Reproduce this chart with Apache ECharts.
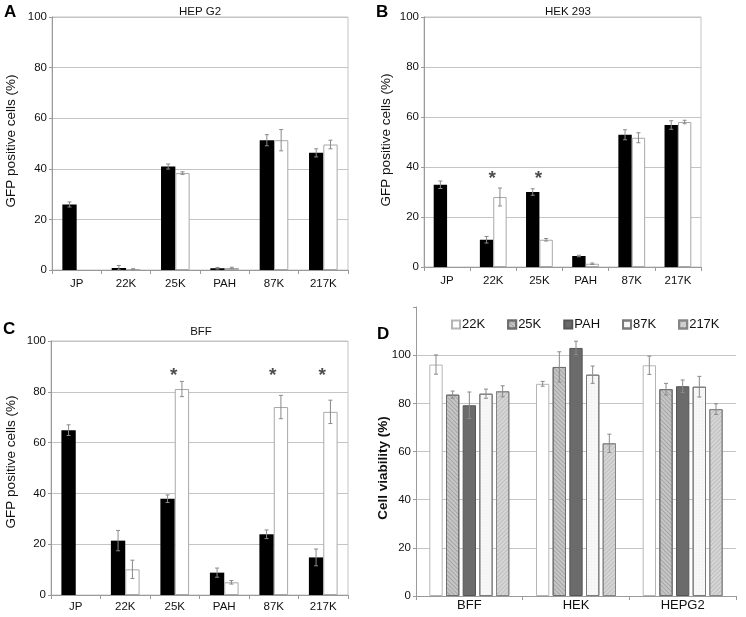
<!DOCTYPE html>
<html>
<head>
<meta charset="utf-8">
<script src="https://cdn.jsdelivr.net/npm/echarts@6/dist/echarts.min.js"></script>
<style>html,body{margin:0;padding:0;background:#fff;}#c{width:746px;height:617px;}</style>
</head>
<body>
<div id="c"></div>
<script>
// ---------- data ----------
const cellCategories = ['JP', '22K', '25K', 'PAH', '87K', '217K'];
const gfpTicks = [0, 20, 40, 60, 80, 100];

const hepg2Black = [25.9, 0.8, 40.9, 0.7, 51.3, 46.3];
const hepg2BlackErr = [1.0, 1.0, 1.0, 0.3, 2.2, 1.6];
const hepg2White = [null, 0.3, 38.3, 0.8, 51.3, 49.6];
const hepg2WhiteErr = [null, 0.2, 0.5, 0.3, 4.2, 1.7];

const hek293Black = [32.9, 10.9, 30.0, 4.4, 52.9, 56.8];
const hek293BlackErr = [1.5, 1.3, 1.3, 0.3, 2.0, 1.7];
const hek293White = [null, 28.0, 10.9, 1.3, 51.7, 58.0];
const hek293WhiteErr = [null, 3.6, 0.5, 0.3, 2.0, 0.7];
const hek293StarCats = ['22K', '25K'];
const hek293StarY = [36.9, 36.9];

const bffBlack = [64.9, 21.4, 37.9, 8.8, 23.9, 14.8];
const bffBlackErr = [2.1, 4.0, 1.5, 1.8, 1.7, 3.3];
const bffWhite = [null, 10.1, 81.1, 5.0, 74.0, 72.1];
const bffWhiteErr = [null, 3.6, 3.0, 0.7, 4.6, 4.6];
const bffStarCats = ['25K', '87K', '217K'];
const bffStarY = [87.8, 87.8, 87.8];

const viabilityGroups = ['BFF', 'HEK', 'HEPG2'];
const viabilityTicks = [0, 20, 40, 60, 80, 100, 120];
const viabilityNames = ['22K', '25K', 'PAH', '87K', '217K'];
const via22K = [96.1, 88.1, 95.8];
const via22KErr = [4.0, 1.0, 3.8];
const via25K = [83.6, 95.1, 85.9];
const via25KErr = [1.5, 6.3, 2.4];
const viaPAH = [79.2, 103.0, 87.1];
const viaPAHErr = [5.5, 2.8, 2.6];
const via87K = [84.0, 91.9, 86.9];
const via87KErr = [1.9, 3.6, 4.3];
const via217K = [85.0, 63.4, 77.6];
const via217KErr = [2.3, 3.8, 2.2];

// ---------- helpers ----------
const FONT = '"Liberation Sans", Arial, sans-serif';
const GRID_COLOR = '#c4c4c4';
const AXIS_COLOR = '#9a9a9a';

function errSeries(idx, vals, errs, slot, nSlots, bwFrac, gapFrac) {
  const data = [];
  vals.forEach((v, i) => { if (v != null && errs[i] != null) data.push([i, v, errs[i]]); });
  return {
    type: 'custom', xAxisIndex: idx, yAxisIndex: idx, z: 5, silent: true,
    encode: { x: 0, y: 1 },
    data: data,
    renderItem: function (params, api) {
      const c = api.value(0), v = api.value(1), e = api.value(2);
      const band = api.size([1, 0])[0];
      const bw = band * bwFrac;
      const step = bw * (1 + gapFrac);
      const x = api.coord([c, v])[0] + (slot - (nSlots - 1) / 2) * step;
      const yT = api.coord([c, v + e])[1];
      const yB = api.coord([c, Math.max(0, v - e)])[1];
      const cap = 2;
      const st = { stroke: '#8a8a8a', lineWidth: 1 };
      return {
        type: 'group', children: [
          { type: 'line', shape: { x1: x, y1: yT, x2: x, y2: yB }, style: st },
          { type: 'line', shape: { x1: x - cap, y1: yT, x2: x + cap, y2: yT }, style: st },
          { type: 'line', shape: { x1: x - cap, y1: yB, x2: x + cap, y2: yB }, style: st }
        ]
      };
    }
  };
}

function starSeries(idx, cats, ys) {
  return {
    type: 'scatter', xAxisIndex: idx, yAxisIndex: idx, symbolSize: 1, z: 6, silent: true,
    itemStyle: { color: 'rgba(0,0,0,0)' },
    data: cats.map((c, i) => [c, ys[i]]),
    label: { show: true, position: 'inside', formatter: '*', fontFamily: FONT, fontSize: 19, fontWeight: 'bold', color: '#222', offset: [-1, 4] }
  };
}

const grids = [
  { left: 52, top: 17, width: 296, height: 253 },
  { left: 424, top: 17, width: 277, height: 250 },
  { left: 51, top: 341, width: 297, height: 254 },
  { left: 416, top: 307, width: 320, height: 289 }
];
grids.forEach((g, i) => {
  g.containLabel = false;
  if (i < 3) { g.show = true; g.borderColor = GRID_COLOR; g.borderWidth = 1; g.backgroundColor = 'transparent'; }
});

function xAx(idx, cats, fs, margin) {
  return {
    type: 'category', gridIndex: idx, data: cats,
    axisLine: { lineStyle: { color: AXIS_COLOR } },
    axisTick: { show: true, length: 4, lineStyle: { color: AXIS_COLOR } },
    axisLabel: { color: '#111', fontFamily: FONT, fontSize: fs, margin: margin }
  };
}
function yAx(idx, ticks, hideTop) {
  const lc = ticks.map((t, i) => (hideTop && i === ticks.length - 1) ? 'rgba(0,0,0,0)' : GRID_COLOR);
  return {
    type: 'value', gridIndex: idx, min: ticks[0], max: ticks[ticks.length - 1], interval: ticks[1] - ticks[0],
    axisLine: { show: true, lineStyle: { color: AXIS_COLOR } },
    axisTick: { show: true, length: 3, lineStyle: { color: AXIS_COLOR } },
    axisLabel: { color: '#111', fontFamily: FONT, fontSize: 11.5, margin: 5,
      formatter: function (v) { return (hideTop && v === ticks[ticks.length - 1]) ? '' : String(v); } },
    splitLine: { show: true, lineStyle: { color: lc, width: 1 } }
  };
}

const BW = 0.29;
function pairSeries(idx, black, white) {
  return [
    { type: 'bar', xAxisIndex: idx, yAxisIndex: idx, data: black, barWidth: (BW * 100) + '%', barGap: '0%',
      itemStyle: { color: '#000' }, silent: true },
    { type: 'bar', xAxisIndex: idx, yAxisIndex: idx, data: white, barWidth: (BW * 100) + '%', barGap: '0%',
      itemStyle: { color: '#fff', borderColor: '#a8a8a8', borderWidth: 1 }, silent: true }
  ];
}

const VBW = 0.125, VGAP = 0.25;
const viaStyles = [
  { color: '#ffffff', borderColor: '#b5b5b5', borderWidth: 1 },
  { color: '#c6c6c6', borderColor: '#6e6e6e', borderWidth: 1,
    decal: { symbol: 'rect', color: 'rgba(90,90,90,0.3)', dashArrayX: [1, 0], dashArrayY: [1, 2], rotation: Math.PI / 4 } },
  { color: '#6b6b6b', borderColor: '#555555', borderWidth: 1 },
  { color: '#f7f7f7', borderColor: '#7a7a7a', borderWidth: 1,
    decal: { symbol: 'circle', symbolSize: 0.6, color: 'rgba(120,120,120,0.3)', dashArrayX: [1, 2], dashArrayY: [1, 2] } },
  { color: '#d6d6d6', borderColor: '#858585', borderWidth: 1,
    decal: { symbol: 'rect', color: 'rgba(120,120,120,0.25)', dashArrayX: [1, 0], dashArrayY: [1, 2], rotation: -Math.PI / 4 } }
];
const viaVals = [via22K, via25K, viaPAH, via87K, via217K];
const viaErrs = [via22KErr, via25KErr, viaPAHErr, via87KErr, via217KErr];

const series = [];
series.push(...pairSeries(0, hepg2Black, hepg2White));
series.push(errSeries(0, hepg2Black, hepg2BlackErr, 0, 2, BW, 0));
series.push(errSeries(0, hepg2White, hepg2WhiteErr, 1, 2, BW, 0));

series.push(...pairSeries(1, hek293Black, hek293White));
series.push(errSeries(1, hek293Black, hek293BlackErr, 0, 2, BW, 0));
series.push(errSeries(1, hek293White, hek293WhiteErr, 1, 2, BW, 0));
series.push(starSeries(1, hek293StarCats, hek293StarY));

series.push(...pairSeries(2, bffBlack, bffWhite));
series.push(errSeries(2, bffBlack, bffBlackErr, 0, 2, BW, 0));
series.push(errSeries(2, bffWhite, bffWhiteErr, 1, 2, BW, 0));
series.push(starSeries(2, bffStarCats, bffStarY));

viabilityNames.forEach((n, k) => {
  series.push({ type: 'bar', name: n, xAxisIndex: 3, yAxisIndex: 3, data: viaVals[k],
    barWidth: (VBW * 100) + '%', barGap: (VGAP * 100) + '%', itemStyle: viaStyles[k], silent: true });
});
viabilityNames.forEach((n, k) => {
  series.push(errSeries(3, viaVals[k], viaErrs[k], k, 5, VBW, VGAP));
});

const titleStyle = { fontFamily: FONT, fontSize: 11.5, fontWeight: 'normal', color: '#111' };
const letterStyle = { fontFamily: FONT, fontSize: 17, fontWeight: 'bold', fill: '#000' };
const yNameStyle = { fontFamily: FONT, fontSize: 13.5, fill: '#111' };

const option = {
  animation: false,
  backgroundColor: '#fff',
  title: [
    { text: 'HEP G2', left: 195, top: 1, textAlign: 'center', textStyle: titleStyle },
    { text: 'HEK 293', left: 563, top: 1, textAlign: 'center', textStyle: titleStyle },
    { text: 'BFF', left: 196, top: 321, textAlign: 'center', textStyle: titleStyle }
  ],
  legend: {
    data: viabilityNames, left: 446, top: 313, itemWidth: 8, itemHeight: 8, itemGap: 22, icon: 'rect',
    textStyle: { fontFamily: FONT, fontSize: 13, color: '#111', padding: [0, 0, 0, -3] }
  },
  grid: grids,
  xAxis: [xAx(0, cellCategories, 11.5, 8), xAx(1, cellCategories, 11.5, 8), xAx(2, cellCategories, 11.5, 6), xAx(3, viabilityGroups, 13, 3)],
  yAxis: [yAx(0, gfpTicks, false), yAx(1, gfpTicks, false), yAx(2, gfpTicks, false), yAx(3, viabilityTicks, true)],
  graphic: [
    { type: 'text', left: 4, top: 4, style: Object.assign({ text: 'A' }, letterStyle) },
    { type: 'text', left: 376, top: 4, style: Object.assign({ text: 'B' }, letterStyle) },
    { type: 'text', left: 3, top: 321, style: Object.assign({ text: 'C' }, letterStyle) },
    { type: 'text', left: 377, top: 326, style: Object.assign({ text: 'D' }, letterStyle) },
    { type: 'text', x: 11, y: 141, rotation: Math.PI / 2, style: Object.assign({ text: 'GFP positive cells (%)', align: 'center', verticalAlign: 'middle' }, yNameStyle) },
    { type: 'text', x: 386, y: 140, rotation: Math.PI / 2, style: Object.assign({ text: 'GFP positive cells (%)', align: 'center', verticalAlign: 'middle' }, yNameStyle) },
    { type: 'text', x: 11, y: 462, rotation: Math.PI / 2, style: Object.assign({ text: 'GFP positive cells (%)', align: 'center', verticalAlign: 'middle' }, yNameStyle) },
    { type: 'text', x: 383, y: 468, rotation: Math.PI / 2, style: { text: 'Cell viability (%)', align: 'center', verticalAlign: 'middle', fontFamily: FONT, fontSize: 13.5, fill: '#111', fontWeight: 'bold' } }
  ],
  series: series
};

const chart = echarts.init(document.getElementById('c'), null, { renderer: 'canvas' });
chart.setOption(option);
</script>
</body>
</html>
